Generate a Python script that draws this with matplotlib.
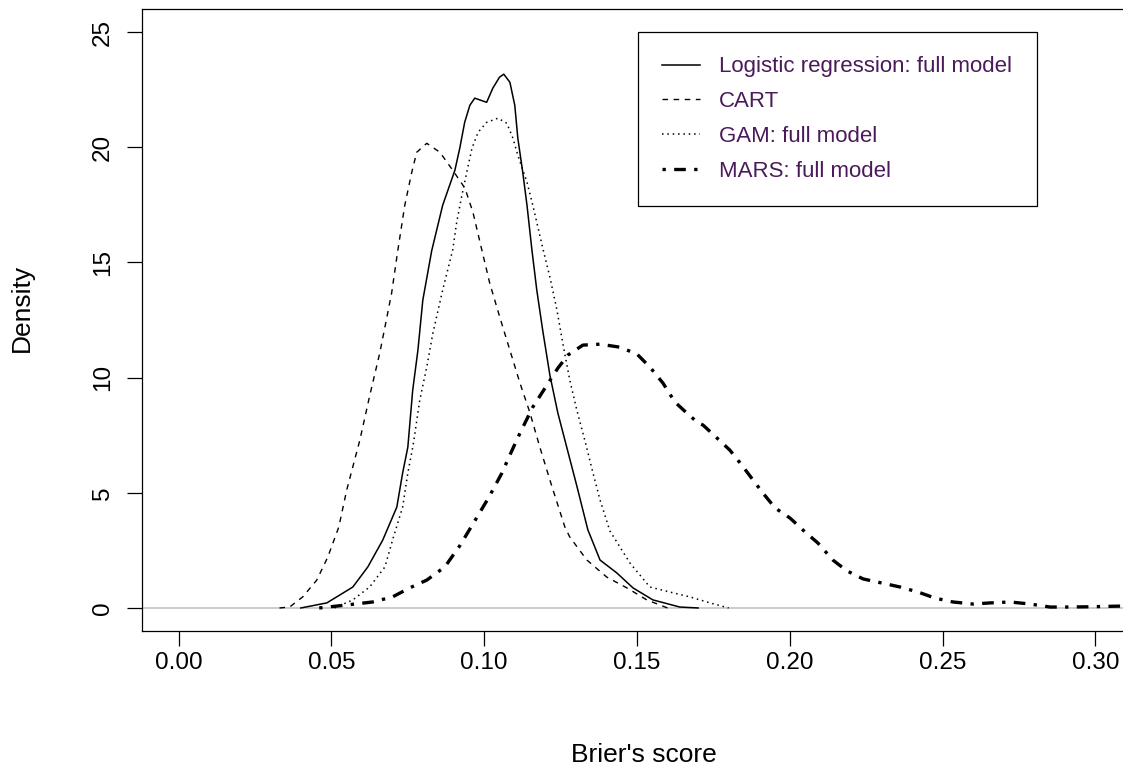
import matplotlib
matplotlib.use("Agg")
import matplotlib.pyplot as plt

# Brier's score density curves
lr_x = [0.040, 0.0485, 0.0527, 0.057, 0.0619, 0.0668, 0.0714, 0.0733, 0.0750, 0.0766,
        0.0783, 0.0799, 0.0828, 0.0864, 0.0904, 0.0920, 0.0936, 0.0953, 0.0969, 0.1008,
        0.1028, 0.1050, 0.1064, 0.1084, 0.1100, 0.1110, 0.1126, 0.1140, 0.1156, 0.1172,
        0.1192, 0.1215, 0.1241, 0.1270, 0.1303, 0.1339, 0.1379, 0.1434, 0.1487, 0.1552,
        0.1640, 0.1700]
lr_y = [0, 0.22, 0.56, 0.91, 1.78, 2.95, 4.38, 5.86, 6.98, 9.46,
        11.19, 13.36, 15.5, 17.48, 19.0, 19.96, 21.08, 21.82, 22.13, 21.95,
        22.56, 23.04, 23.17, 22.82, 21.82, 20.39, 18.92, 17.48, 15.55, 13.8,
        12.0, 10.1, 8.46, 6.98, 5.3, 3.4, 2.08, 1.52, 0.87, 0.35,
        0.04, 0.0]

cart_x = [0.033, 0.0363, 0.0406, 0.0452, 0.0488, 0.0524, 0.055, 0.0593, 0.0625, 0.0658,
          0.0675, 0.0697, 0.0717, 0.074, 0.0763, 0.0779, 0.0812, 0.0855, 0.0897, 0.0937,
          0.0963, 0.0992, 0.1018, 0.1051, 0.1084, 0.1117, 0.1149, 0.1182, 0.1215, 0.1264,
          0.128, 0.1336, 0.1401, 0.1467, 0.1532, 0.1600]
cart_y = [0, 0.04, 0.48, 1.21, 2.21, 3.51, 5.12, 7.29, 9.2, 11.06,
          12.19, 13.67, 15.5, 17.48, 18.92, 19.78, 20.17, 19.78, 19.0, 18.22,
          17.18, 15.55, 14.1, 12.62, 11.19, 9.76, 8.5, 6.98, 5.55, 3.51,
          3.08, 2.08, 1.34, 0.87, 0.35, 0.0]

gam_x = [0.051, 0.057, 0.0625, 0.0675, 0.070, 0.0733, 0.075, 0.0766, 0.077, 0.0789,
         0.0812, 0.0832, 0.0864, 0.0897, 0.091, 0.0927, 0.0943, 0.096, 0.098, 0.1008,
         0.1045, 0.1074, 0.1094, 0.111, 0.114, 0.1159, 0.1192, 0.1215, 0.1238, 0.1257,
         0.128, 0.1303, 0.1329, 0.1356, 0.1379, 0.1411, 0.1477, 0.1542, 0.1608, 0.1673,
         0.1739, 0.180]
gam_y = [0.0, 0.35, 0.91, 1.78, 2.95, 4.38, 5.86, 6.98, 7.29, 9.02,
         10.46, 11.93, 13.8, 15.55, 16.75, 17.92, 18.92, 19.96, 20.65, 21.08,
         21.26, 21.04, 20.39, 19.65, 18.48, 17.48, 15.6, 14.36, 12.93, 11.5,
         9.89, 8.59, 7.29, 5.86, 4.69, 3.35, 1.95, 0.91, 0.69, 0.48,
         0.22, 0.0]

mars_x = [0.046, 0.055, 0.0635, 0.070, 0.0756, 0.0812, 0.0871, 0.092, 0.097, 0.1015,
          0.1058, 0.1084, 0.1117, 0.1159, 0.1205, 0.1241, 0.1274, 0.1323, 0.1379, 0.1444,
          0.150, 0.1542, 0.1585, 0.1624, 0.1663, 0.170, 0.1716, 0.1755, 0.1804, 0.1843,
          0.188, 0.1912, 0.1952, 0.2001, 0.205, 0.2092, 0.2141, 0.2187, 0.224, 0.2302,
          0.2361, 0.242, 0.2475, 0.2534, 0.260, 0.2656, 0.2721, 0.2787, 0.2852, 0.29,
          0.2973, 0.308, 0.315]
mars_y = [0, 0.13, 0.26, 0.48, 0.87, 1.21, 1.78, 2.7, 3.8, 4.8,
          5.86, 6.64, 7.59, 8.72, 9.67, 10.41, 10.98, 11.41, 11.45, 11.32,
          11.02, 10.46, 9.76, 8.94, 8.46, 8.03, 7.94, 7.46, 6.85, 6.2,
          5.55, 4.99, 4.34, 3.9, 3.3, 2.82, 2.08, 1.61, 1.26, 1.08,
          0.91, 0.69, 0.43, 0.26, 0.17, 0.22, 0.26, 0.17, 0.04, 0.04,
          0.05, 0.08, 0.08]

labels = ["Logistic regression: full model", "CART", "GAM: full model", "MARS: full model"]
x_ticks = [0.00, 0.05, 0.10, 0.15, 0.20, 0.25, 0.30]
y_ticks = [0, 5, 10, 15, 20, 25]

plt.rcParams['font.family'] = ['Liberation Sans', 'DejaVu Sans']

W, H = 1123, 773
fig = plt.figure(figsize=(W / 100, H / 100), dpi=100)
# plot box in pixels: left 142, top 9, bottom 631, right 1132 (past the image edge)
ax = fig.add_axes([142 / W, (H - 631) / H, (1132 - 142) / W, (631 - 9) / H])

ax.axhline(0, color='#bebebe', lw=1.1, zorder=1)
ax.plot(lr_x, lr_y, color='black', lw=1.1, label=labels[0])
ax.plot(cart_x, cart_y, color='black', lw=1.0, dashes=[4, 4], label=labels[1])
ax.plot(gam_x, gam_y, color='black', lw=1.1, dashes=[1, 2.5], label=labels[2])
ax.plot(mars_x, mars_y, color='black', lw=2.4, dashes=[1, 2.5, 3.5, 2.5], label=labels[3])

ax.set_xlim(-0.012, 0.312)
ax.set_ylim(-1, 26)
ax.set_xticks(x_ticks)
ax.set_xticklabels(["%.2f" % v for v in x_ticks])
ax.set_yticks(y_ticks)
ax.set_yticklabels([str(v) for v in y_ticks], rotation=90, va='center')

for s in ax.spines.values():
    s.set_linewidth(0.9)
ax.spines['right'].set_visible(False)
ax.tick_params(length=11, width=0.9, labelsize=17.5, pad=4)
ax.tick_params(axis='y', pad=9)

ax.set_xlabel("Brier's score", fontsize=19, va='center')
ax.set_ylabel("Density", fontsize=19, va='center')
ax.xaxis.set_label_coords(0.507, -0.199)
ax.yaxis.set_label_coords(-0.121, 0.52)

leg = ax.legend(loc='upper left', bbox_to_anchor=((638 - 142) / 990, (631 - 32) / 622),
                fontsize=16.0, frameon=True, fancybox=False, edgecolor='black',
                framealpha=1, handlelength=1.7, handletextpad=0.85, labelspacing=0.62,
                borderpad=1.1, borderaxespad=0)
leg.get_frame().set_linewidth(0.9)
for t in leg.get_texts():
    t.set_color('#4a1a5a')

fig.savefig("out.png", dpi=100)
